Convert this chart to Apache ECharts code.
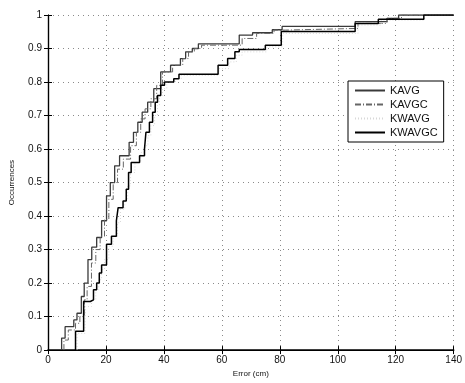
<!DOCTYPE html>
<html>
<head>
<meta charset="utf-8">
<script src="https://cdn.jsdelivr.net/npm/echarts@6/dist/echarts.min.js"></script>
<style>
  html, body { margin: 0; padding: 0; background: #fff; }
  #chart { width: 465px; height: 383px; }
</style>
</head>
<body>
<div id="chart"></div>
<script>
var kavgErr = [4.7, 4.7, 5.9, 8.9, 10, 11.5, 12.5, 13.8, 15.1, 16.8, 18.5, 20.2, 21.5, 23, 24.7, 28, 29.5, 31, 32.5, 34.4, 36.5, 38.9, 42.3, 45.7, 47.5, 49.8, 51.9, 66, 70.6, 77.4, 80.8, 106, 117, 121, 140];
var kavgCdf = [0, 0.036, 0.07, 0.09, 0.11, 0.16, 0.2, 0.27, 0.307, 0.336, 0.386, 0.46, 0.5, 0.55, 0.58, 0.62, 0.65, 0.68, 0.71, 0.74, 0.78, 0.83, 0.85, 0.87, 0.89, 0.9, 0.914, 0.94, 0.947, 0.956, 0.966, 0.98, 0.99, 1, 1];

var kavgcErr = [5.5, 5.5, 7, 9.5, 11, 12.5, 13.5, 15, 16.5, 18, 19.5, 21, 22.5, 24, 26, 28.5, 30.5, 32, 33.5, 35.5, 37.5, 39.5, 43, 46.5, 48.5, 50.5, 53, 67, 72, 78, 82, 107, 117, 122, 140];
var kavgcCdf = [0, 0.03, 0.06, 0.08, 0.1, 0.15, 0.19, 0.26, 0.3, 0.34, 0.39, 0.45, 0.5, 0.54, 0.57, 0.61, 0.65, 0.69, 0.72, 0.75, 0.79, 0.83, 0.85, 0.87, 0.89, 0.9, 0.91, 0.93, 0.945, 0.955, 0.96, 0.975, 0.99, 1, 1];

var kwavgErr = [10, 10, 12.8, 13, 15, 16.5, 17.5, 18.5, 19.5, 21, 22.5, 24, 25, 26.5, 27.5, 28.5, 30, 32, 33.5, 34.5, 35.5, 36.8, 37.8, 38.5, 39.5, 41, 44, 46, 59, 62.5, 65, 67, 75.5, 81, 107, 115, 130, 140];
var kwavgCdf = [0, 0.05, 0.09, 0.13, 0.15, 0.18, 0.21, 0.24, 0.27, 0.31, 0.34, 0.38, 0.42, 0.45, 0.49, 0.53, 0.56, 0.59, 0.61, 0.64, 0.67, 0.7, 0.73, 0.76, 0.78, 0.8, 0.81, 0.82, 0.84, 0.86, 0.88, 0.89, 0.905, 0.945, 0.97, 0.985, 1, 1];

var kwavgcErr = [9.5, 9.5, 12.3, 12.3, 14.6, 15.7, 16.8, 17.7, 18.5, 20.2, 21.9, 23.6, 24.2, 25.9, 27, 27.8, 28.7, 31.6, 33.3, 33.8, 35, 36.1, 37, 37.8, 38.9, 40.2, 43.4, 45.2, 58.7, 62, 64.5, 66, 75, 80.5, 106, 114, 129.7, 140];
var kwavgcCdf = [0, 0.056, 0.1, 0.145, 0.15, 0.18, 0.2, 0.23, 0.254, 0.316, 0.34, 0.386, 0.425, 0.445, 0.48, 0.53, 0.56, 0.58, 0.6, 0.65, 0.68, 0.71, 0.74, 0.76, 0.79, 0.8, 0.81, 0.823, 0.85, 0.87, 0.89, 0.897, 0.91, 0.951, 0.975, 0.987, 1, 1];

var seriesNames = ['KAVG', 'KAVGC', 'KWAVG', 'KWAVGC'];

function pairs(xs, ys) {
    return xs.map(function (x, i) { return [x, ys[i]]; });
}

function cdfLine(name, xs, ys, lineStyle) {
    return {
        name: name,
        type: 'line',
        step: 'end',
        symbol: 'none',
        animation: false,
        data: pairs(xs, ys),
        lineStyle: lineStyle,
        itemStyle: { color: lineStyle.color }
    };
}

var font = 'Liberation Sans, Arial, sans-serif';
var gridLine = { show: true, lineStyle: { color: '#8a8a8a', width: 1, type: [1, 4] } };

var chart = echarts.init(document.getElementById('chart'));
chart.setOption({
    backgroundColor: '#ffffff',
    grid: { left: 45, right: 8, top: 15, bottom: 29 },
    legend: {
        data: seriesNames,
        orient: 'vertical',
        left: 348,
        top: 81,
        width: 98,
        padding: [4, 6, 4, 6],
        itemGap: 3,
        itemWidth: 30,
        itemHeight: 12,
        itemStyle: { opacity: 0 },
        backgroundColor: '#fff',
        borderColor: '#000',
        borderWidth: 1,
        borderRadius: 0,
        textStyle: { fontFamily: font, fontSize: 11, color: '#111' }
    },
    xAxis: [{
        type: 'value', min: 0, max: 140, interval: 20,
        name: 'Error (cm)', nameLocation: 'middle', nameGap: 15,
        nameTextStyle: { fontFamily: font, fontSize: 8, color: '#111' },
        axisLine: { lineStyle: { color: '#000', width: 1.2 } },
        axisTick: { inside: true, length: 4, lineStyle: { color: '#000' } },
        axisLabel: { fontFamily: font, fontSize: 10, color: '#111', margin: 5 },
        splitLine: gridLine
    }, {
        type: 'value', min: 0, max: 140, interval: 20, position: 'top',
        axisLine: { lineStyle: { color: '#000', width: 1.5 } },
        axisTick: { inside: true, length: 4, lineStyle: { color: '#000' } },
        axisLabel: { show: false },
        splitLine: { show: false }
    }],
    yAxis: [{
        type: 'value', min: 0, max: 1, interval: 0.1,
        name: 'Occurrences', nameLocation: 'middle', nameGap: 32,
        nameTextStyle: { fontFamily: font, fontSize: 8, color: '#111' },
        axisLine: { show: true, lineStyle: { color: '#000', width: 1.2 } },
        axisTick: { show: true, inside: true, length: 4, lineStyle: { color: '#000' } },
        axisLabel: {
            fontFamily: font, fontSize: 10, color: '#111', margin: 6,
            formatter: function (v) { return (v === 0 || v === 1) ? String(v) : v.toFixed(1); }
        },
        splitLine: gridLine
    }, {
        type: 'value', min: 0, max: 1, interval: 0.1, position: 'right',
        axisLine: { show: true, lineStyle: { color: '#000', width: 1.2 } },
        axisTick: { show: true, inside: true, length: 4, lineStyle: { color: '#000' } },
        axisLabel: { show: false },
        splitLine: { show: false }
    }],
    series: [
        cdfLine('KAVG', kavgErr, kavgCdf, { color: '#3a3a3a', width: 1.3, type: 'solid' }),
        cdfLine('KAVGC', kavgcErr, kavgcCdf, { color: '#666', width: 1, type: [6, 2, 1, 2] }),
        cdfLine('KWAVG', kwavgErr, kwavgCdf, { color: '#d8d8d8', width: 1, type: [1, 2] }),
        cdfLine('KWAVGC', kwavgcErr, kwavgcCdf, { color: '#000', width: 1.5, type: 'solid' })
    ]
});
</script>
</body>
</html>
